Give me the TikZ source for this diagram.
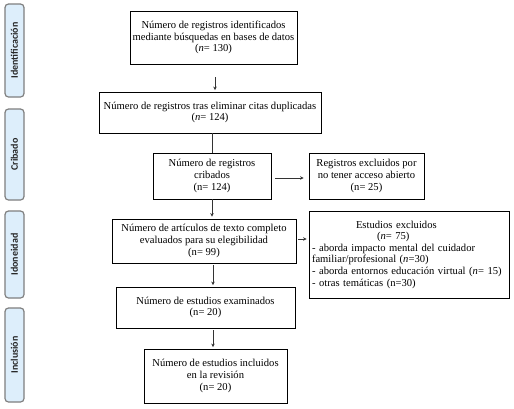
\documentclass[tikz,border=0pt]{standalone}
\usepackage{fontspec}
\setmainfont{Liberation Serif}
\newfontfamily\sidefont{Carlito}
\usetikzlibrary{arrows.meta}
\definecolor{sidefill}{HTML}{DDEEFB}
\definecolor{sideline}{HTML}{7F7F7F}
\definecolor{arrcol}{HTML}{333333}
\begin{document}
\begin{tikzpicture}[x=1pt,y=-1pt,
  box/.style={draw=black, line width=0.8pt, align=center, inner sep=2pt,
    font=\fontsize{10.6}{11.6}\selectfont},
  side/.style={draw=sideline, fill=sidefill, line width=1.2pt, rounded corners=3.5pt,
    rotate=90, inner sep=0pt, minimum height=19pt,
    font=\sidefont\bfseries\fontsize{10}{11}\selectfont, text=black!85},
  arr/.style={draw=arrcol, line width=0.8pt, -{Stealth[length=3.5pt,width=3.5pt]}},
  ln/.style={draw=arrcol, line width=0.8pt}]
\useasboundingbox (0,0) rectangle (514,408);
\fill[white] (0,0) rectangle (514,408);

% side labels
\node[side, minimum width=93pt] (s1) at (14.5,50.5) {Identificación};
\node[side, minimum width=91pt] (s2) at (14.5,154.5) {Cribado};
\node[side, minimum width=87pt] (s3) at (14.5,254.5) {Idoneidad};
\node[side, minimum width=94pt] (s4) at (14.5,355) {Inclusión};

% main boxes
\node[box, minimum width=167pt, minimum height=53pt] (b1) at (213.5,37.5)
  {Número de registros identificados\\mediante búsquedas en bases de datos\\(\textit{n}= 130)};
\node[box, minimum width=222pt, minimum height=41pt] (b2) at (210,112.5)
  {Número de registros tras eliminar citas duplicadas\\(\textit{n}= 124)};
\node[box, minimum width=118pt, minimum height=46pt] (b3) at (212,176)
  {Número de registros\\cribados\\(n= 124)};
\node[box, minimum width=115pt, minimum height=46pt] (b4) at (366.5,176)
  {Registros excluidos por\\no tener acceso abierto\\(n= 25)};
\node[box, minimum width=184pt, minimum height=44pt] (b5) at (204,241)
  {Número de artículos de texto completo\\evaluados para su elegibilidad\\(n= 99)};
\node[box, minimum width=200pt, minimum height=87pt, align=left, text width=194pt] (b6) at (409,254.5)
  {\hspace*{44pt}Estudios excluidos\\
   \hspace*{65pt}(\textit{n}= 75)\\
   - aborda impacto mental del cuidador\\
   familiar/profesional (\textit{n}=30)\\
   - aborda entornos educación virtual (\textit{n}= 15)\\
   - otras temáticas (n=30)};
\node[box, minimum width=179pt, minimum height=41pt] (b7) at (205.5,307.5)
  {Número de estudios examinados\\(n= 20)};
\node[box, minimum width=143pt, minimum height=54pt] (b8) at (215.5,376)
  {Número de estudios incluidos\\en la revisión\\(n= 20)};

% connectors
\draw[arr, shorten <=13pt, shorten >=1.5pt] (b1.south -| 215,0) -- (b2.north -| 215,0);
\draw[ln] (b2.south -| 212,0) -- (b3.north -| 212,0);
\draw[arr, shorten >=2pt] (b3.south -| 212,0) -- (b5.north -| 212,0);
\draw[arr, shorten <=4pt, shorten >=5pt] (b3.east |- 0,178) -- (b4.west |- 0,178);
\draw[arr, shorten <=2pt, shorten >=2pt] (b5.east |- 0,239) -- (b6.west |- 0,239);
\draw[arr, shorten <=2pt, shorten >=1.5pt] (b5.south -| 213,0) -- (b7.north -| 213,0);
\draw[arr, shorten <=2pt, shorten >=1.5pt] (b7.south -| 213,0) -- (b8.north -| 213,0);
\end{tikzpicture}
\end{document}
